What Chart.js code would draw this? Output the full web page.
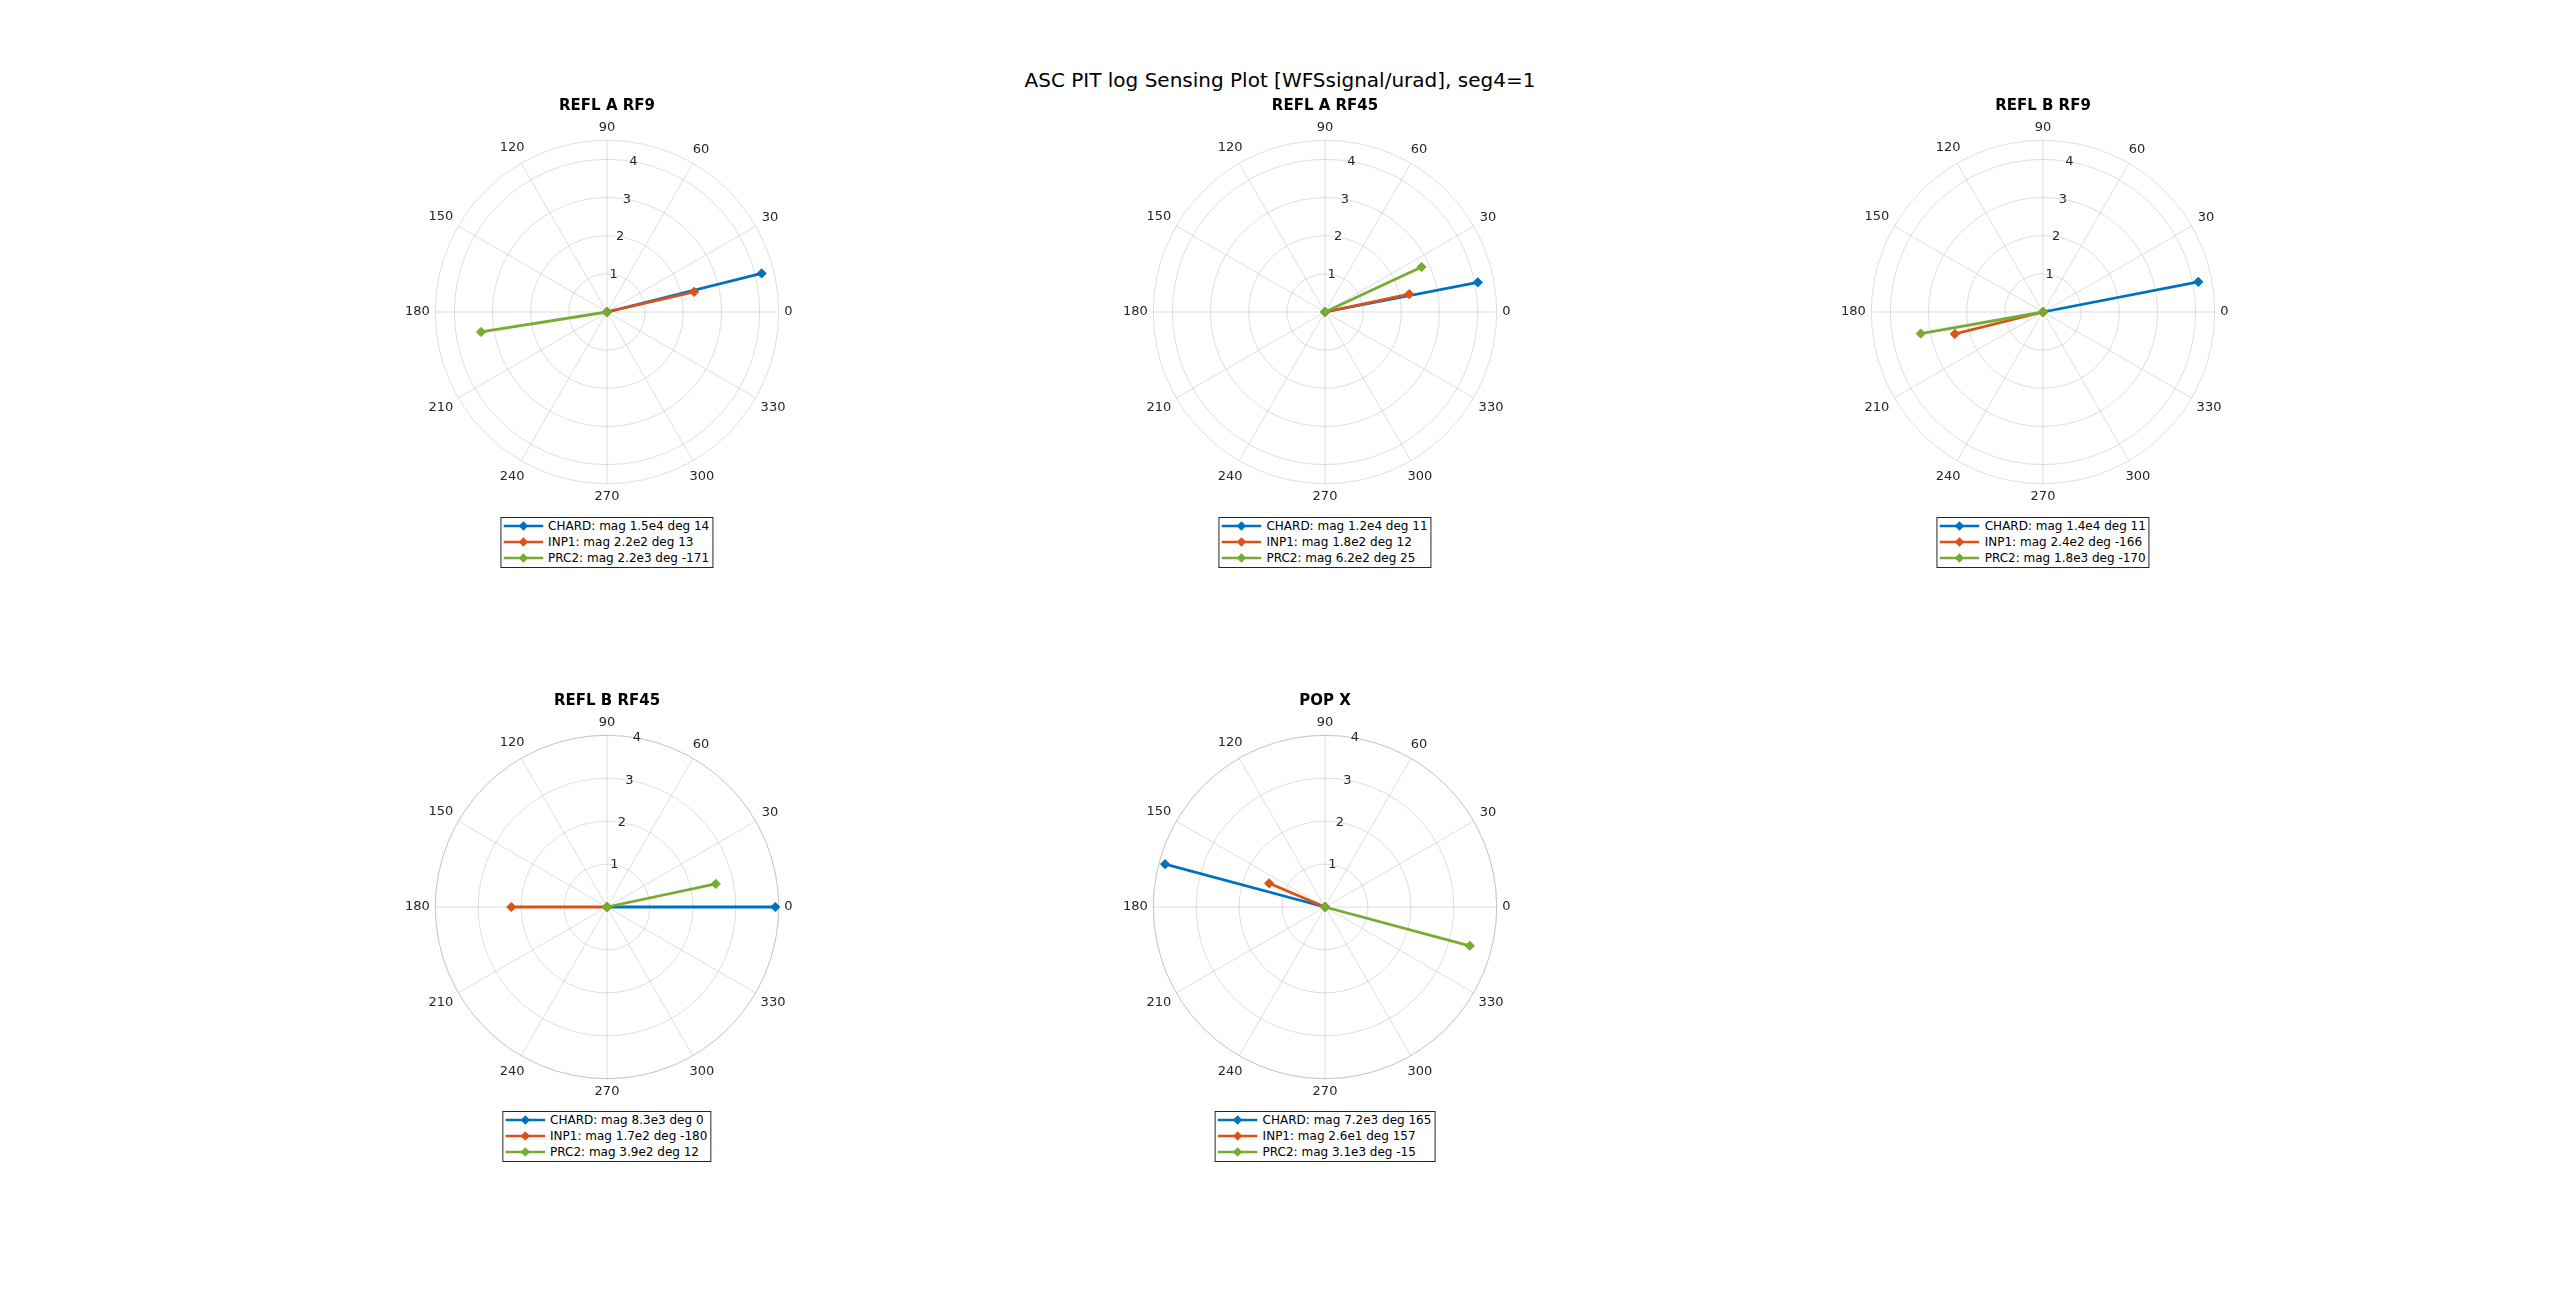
<!DOCTYPE html>
<html>
<head>
<meta charset="utf-8">
<title>ASC PIT log Sensing Plot</title>
<script src="https://cdn.jsdelivr.net/npm/chart.js@4.4.1/dist/chart.umd.min.js"></script>
<style>
  html, body { margin: 0; padding: 0; background: #fff; }
  body { width: 2560px; height: 1299px; position: relative; overflow: hidden; font-family: 'DejaVu Sans', sans-serif; }
  #suptitle { position: absolute; left: 0; width: 2560px; top: 70px; text-align: center; font-size: 20px; line-height: 20px; color: #000; }
  canvas { position: absolute; }
  .legend { position: absolute; transform: translateX(-50%); border: 1px solid #262626; background: #fff; padding: 0 3px 1px 2px; font-size: 12px; color: #000; white-space: nowrap; }
  .legend .row { display: flex; align-items: center; height: 16px; }
  .legend svg { margin-right: 5px; flex: none; }
</style>
</head>
<body>
<div id="suptitle">ASC PIT log Sensing Plot [WFSsignal/urad], seg4=1</div>
<div id="figure"></div>
<script>
// Data (legend values)
const panelTitles = ['REFL A RF9', 'REFL A RF45', 'REFL B RF9', 'REFL B RF45', 'POP X'];
const seriesNames = ['CHARD', 'INP1', 'PRC2'];
const chardMag = [1.5e4, 1.2e4, 1.4e4, 8.3e3, 7.2e3];
const chardDeg = [14, 11, 11, 0, 165];
const inp1Mag = [2.2e2, 1.8e2, 2.4e2, 1.7e2, 2.6e1];
const inp1Deg = [13, 12, -166, -180, 157];
const prc2Mag = [2.2e3, 6.2e2, 1.8e3, 3.9e2, 3.1e3];
const prc2Deg = [-171, 25, -170, 12, -15];
const angleTicks = [0, 30, 60, 90, 120, 150, 180, 210, 240, 270, 300, 330];
const radiusTicks = [1, 2, 3, 4];
const radiusLimits = [4.5, 4.5, 4.5, 4, 4];

const magsBySeries = [chardMag, inp1Mag, prc2Mag];
const degsBySeries = [chardDeg, inp1Deg, prc2Deg];

// Styles / layout
const seriesColors = ['#0072BD', '#D95319', '#77AC30'];
const gridColor = 'rgba(38,38,38,0.15)';
const tickColor = '#262626';
const plotRadius = 171.7;
const canvasW = 560, canvasH = 460, originX = 280, originY = 250;

function panelCenter(i) {
  const col = i % 3, row = Math.floor(i / 3);
  return [606.7 + col * 718.3, 312.3 + row * 594.4];
}

function fmtMag(m) {
  const e = Math.floor(Math.log10(m) + 1e-9);
  return (m / Math.pow(10, e)).toFixed(1) + 'e' + e;
}

// grid, labels and title for a polar-looking scatter chart
const polarGrid = {
  id: 'polarGrid',
  beforeDatasetsDraw(chart, args, opts) {
    const { ctx, scales: { x, y } } = chart;
    const cx = x.getPixelForValue(0), cy = y.getPixelForValue(0);
    const unit = x.getPixelForValue(1) - cx;
    const R = opts.rMax * unit;
    ctx.save();
    ctx.strokeStyle = gridColor;
    ctx.lineWidth = 1;
    angleTicks.forEach(a => {
      const t = a * Math.PI / 180;
      ctx.beginPath();
      ctx.moveTo(cx, cy);
      ctx.lineTo(cx + R * Math.cos(t), cy - R * Math.sin(t));
      ctx.stroke();
    });
    radiusTicks.forEach(r => {
      if (r > opts.rMax) return;
      ctx.beginPath();
      ctx.arc(cx, cy, r * unit, 0, Math.PI * 2);
      ctx.stroke();
    });
    // outer boundary
    ctx.beginPath();
    ctx.arc(cx, cy, R, 0, Math.PI * 2);
    ctx.stroke();
    ctx.restore();
  },
  afterDraw(chart, args, opts) {
    const { ctx, scales: { x, y } } = chart;
    const cx = x.getPixelForValue(0), cy = y.getPixelForValue(0);
    const unit = x.getPixelForValue(1) - cx;
    const R = opts.rMax * unit;
    ctx.save();
    ctx.fillStyle = tickColor;
    ctx.font = '13px "DejaVu Sans"';
    ctx.textAlign = 'center';
    ctx.textBaseline = 'middle';
    // angle labels
    angleTicks.forEach(a => {
      const t = a * Math.PI / 180;
      const w = ctx.measureText(String(a)).width;
      const off = 5.5 + Math.abs(Math.cos(t)) * w / 2 + Math.abs(Math.sin(t)) * 7.5;
      ctx.fillText(String(a), cx + (R + off) * Math.cos(t), cy - (R + off) * Math.sin(t));
    });
    // radius labels along 80 deg
    const ra = 80 * Math.PI / 180;
    radiusTicks.forEach(r => {
      if (r > opts.rMax) return;
      ctx.fillText(String(r), x.getPixelForValue(r * Math.cos(ra)), y.getPixelForValue(r * Math.sin(ra)));
    });
    // panel title
    ctx.fillStyle = '#000';
    ctx.font = 'bold 15px "DejaVu Sans"';
    ctx.textBaseline = 'alphabetic';
    ctx.fillText(opts.title, cx, cy - 201.6);
    ctx.restore();
  }
};

const figure = document.getElementById('figure');

panelTitles.forEach((title, p) => {
  const [pcx, pcy] = panelCenter(p);
  const rMax = radiusLimits[p];

  const canvas = document.createElement('canvas');
  canvas.width = canvasW;
  canvas.height = canvasH;
  canvas.style.left = (pcx - originX) + 'px';
  canvas.style.top = (pcy - originY) + 'px';
  figure.appendChild(canvas);

  const datasets = seriesNames.map((name, s) => {
    const r = Math.log10(magsBySeries[s][p]);
    const t = degsBySeries[s][p] * Math.PI / 180;
    return {
      label: name,
      data: [{ x: 0, y: 0 }, { x: r * Math.cos(t), y: r * Math.sin(t) }],
      showLine: true,
      borderColor: seriesColors[s],
      backgroundColor: seriesColors[s],
      borderWidth: 2.8,
      pointStyle: 'rectRot',
      pointRadius: 4.6,
      pointBorderWidth: 1,
      clip: false,
      order: seriesNames.length - 1 - s
    };
  });

  new Chart(canvas, {
    type: 'scatter',
    data: { datasets },
    options: {
      responsive: false,
      animation: false,
      events: [],
      layout: {
        padding: {
          left: originX - plotRadius,
          right: canvasW - originX - plotRadius,
          top: originY - plotRadius,
          bottom: canvasH - originY - plotRadius
        }
      },
      scales: {
        x: { type: 'linear', min: -rMax, max: rMax, display: false },
        y: { type: 'linear', min: -rMax, max: rMax, display: false }
      },
      plugins: {
        legend: { display: false },
        tooltip: { enabled: false },
        polarGrid: { rMax: rMax, title: title }
      }
    },
    plugins: [polarGrid]
  });

  // legend box
  const legend = document.createElement('div');
  legend.className = 'legend';
  legend.style.left = pcx + 'px';
  legend.style.top = (pcy + 204.5) + 'px';
  seriesNames.forEach((name, s) => {
    const row = document.createElement('div');
    row.className = 'row';
    const c = seriesColors[s];
    row.innerHTML =
      '<svg width="40" height="16"><line x1="0" y1="8" x2="40" y2="8" stroke="' + c + '" stroke-width="2.6"/>' +
      '<polygon points="20,3.3 24.7,8 20,12.7 15.3,8" fill="' + c + '"/></svg>' +
      '<span>' + name + ': mag ' + fmtMag(magsBySeries[s][p]) + ' deg ' + degsBySeries[s][p] + '</span>';
    legend.appendChild(row);
  });
  figure.appendChild(legend);
});
</script>
</body>
</html>
